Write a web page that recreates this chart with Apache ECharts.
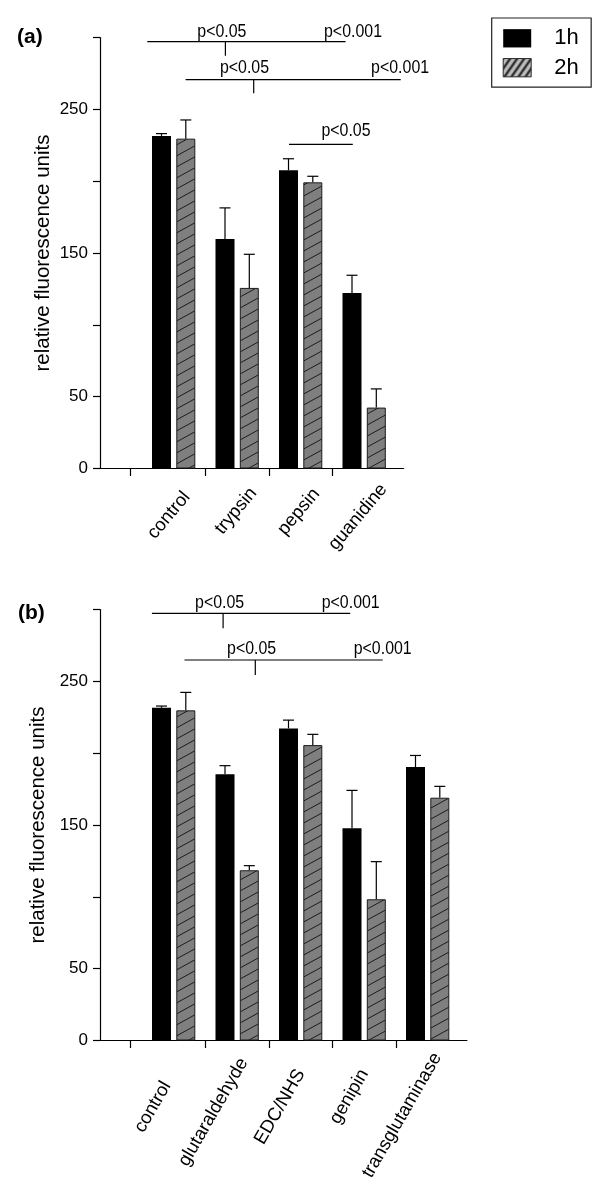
<!DOCTYPE html>
<html>
<head>
<meta charset="utf-8">
<script src="https://cdn.jsdelivr.net/npm/echarts@6/dist/echarts.min.js"></script>
<style>
  html, body { margin: 0; padding: 0; background: #fff; }
  #chart { width: 600px; height: 1198px; }
</style>
</head>
<body>
<div id="chart"></div>
<script>
// ---------------- DATA ----------------
const categoriesA = ['control', 'trypsin', 'pepsin', 'guanidine'];
const meanA1h = [231.5, 159.8, 207.6, 122.2];
const errA1h  = [1.6, 21.6, 8.0, 12.3];
const meanA2h = [229.6, 125.7, 199.2, 42.4];
const errA2h  = [13.0, 23.4, 4.2, 13.0];

const categoriesB = ['control', 'glutaraldehyde', 'EDC/NHS', 'genipin', 'transglutaminase'];
const meanB1h = [231.6, 185.3, 217.2, 147.7, 190.3];
const errB1h  = [1.2, 6.0, 5.8, 26.4, 8.1];
const meanB2h = [229.8, 118.5, 205.6, 98.3, 169.0];
const errB2h  = [12.5, 3.2, 7.5, 26.2, 7.9];

const seriesNames = ['1h', '2h'];
const yLabeledTicks = [0, 50, 150, 250];
const yMax = 300;
const yStep = 50;

// ---------------- LAYOUT / STYLE ----------------
const FONT = "'Liberation Sans', Arial, Helvetica, sans-serif";
const BAND = 63.5;          // px per category band
const BAND_LEFT = 141.9;    // left edge of first band
const AXIS_X = 100;         // y-axis line x
const BAR_W = 19;
const BAR_GAP_PX = 5.3;
const BAR_OFF = (BAR_W + BAR_GAP_PX) / 2;
const PLOT_H = 431;
const TOP_A = 37.5, TOP_B = 609.5;
const AXIS_LINE_LEFT = 95.7;
const AXIS_LINE_RIGHT_A = 403.7, AXIS_LINE_RIGHT_B = 466.9;
const ODD_TICK = (130 - BAND_LEFT) / BAND;
const labelA = { rotate: 50, shift: 19.6, margin: 17.8, pad: [10, 5, 6, 0] };
const labelB = { rotate: 60, shift: 9.6, margin: 13.8, pad: [33, 6, 19, 19, 0] };

function hatch(w, h, bg, fg, lw) {
  const c = document.createElement('canvas');
  c.width = w; c.height = h;
  const g = c.getContext('2d');
  g.fillStyle = bg; g.fillRect(0, 0, w, h);
  g.strokeStyle = fg; g.lineWidth = lw;
  g.beginPath();
  for (const dx of [-w, 0, w]) for (const dy of [-h, 0, h]) {
    g.moveTo(dx, h + dy); g.lineTo(w + dx, dy);
  }
  g.stroke();
  return { image: c, repeat: 'repeat' };
}
const barPattern = hatch(20, 11, '#7f7f7f', '#1c1c1c', 1);
const legendPattern = hatch(7, 10, '#bdbdbd', '#2a2a2a', 2.4);

const chart = echarts.init(document.getElementById('chart'), null, { renderer: 'canvas' });

function grids(top, nBands, lineRight, labelShift) {
  return [
    { left: BAND_LEFT, top: top, width: BAND * nBands, height: PLOT_H },
    { left: AXIS_LINE_LEFT, top: top, width: lineRight - AXIS_LINE_LEFT, height: PLOT_H },
    { left: BAND_LEFT + labelShift, top: top, width: BAND * nBands, height: PLOT_H }
  ];
}

function xAxes(gridBase, cats, lineRight, lab) {
  const nB = cats.length;
  const rich = {};
  lab.pad.forEach((p, i) => {
    rich['p' + i] = { fontFamily: FONT, fontSize: 18.5, color: '#000', padding: [0, p, 0, 0] };
  });
  const ticks = [ODD_TICK];
  for (let i = 1; i < nB; i++) ticks.push(i);
  return [
    { gridIndex: gridBase, type: 'category', data: cats,
      axisLine: { show: false }, axisTick: { show: false }, axisLabel: { show: false } },
    { gridIndex: gridBase + 1, type: 'value',
      min: (AXIS_LINE_LEFT - BAND_LEFT) / BAND, max: (lineRight - BAND_LEFT) / BAND,
      axisLine: { show: true, lineStyle: { color: '#000', width: 1.2 } },
      axisTick: { show: true, length: 7.5, lineStyle: { color: '#000', width: 1.2 }, customValues: ticks },
      axisLabel: { show: false }, splitLine: { show: false } },
    { gridIndex: gridBase + 2, type: 'category', data: cats,
      axisLine: { show: false }, axisTick: { show: false },
      axisLabel: { show: true, interval: 0, rotate: lab.rotate, margin: lab.margin,
        formatter: (v, i) => '{p' + i + '|' + v + '}', rich: rich } }
  ];
}

function yAxes(gridBase) {
  return [
    { gridIndex: gridBase, type: 'value', min: 0, max: yMax, interval: yStep,
      offset: BAND_LEFT - AXIS_X,
      name: 'relative fluorescence units', nameLocation: 'middle', nameGap: 46,
      nameTextStyle: { fontFamily: FONT, fontSize: 20.5, color: '#000' },
      axisLine: { show: true, lineStyle: { color: '#000', width: 1.2 } },
      axisTick: { show: true, length: 7, lineStyle: { color: '#000', width: 1.2 } },
      axisLabel: { margin: 12, fontFamily: FONT, fontSize: 17, color: '#000',
        formatter: v => (yLabeledTicks.indexOf(v) >= 0 ? String(v) : '') },
      splitLine: { show: false } },
    { gridIndex: gridBase + 1, type: 'value', min: 0, max: yMax, show: false },
    { gridIndex: gridBase + 2, type: 'value', min: 0, max: yMax, show: false }
  ];
}

function barSeries(axisIdx, name, values, isHatched) {
  return {
    type: 'bar', name: name, xAxisIndex: axisIdx, yAxisIndex: axisIdx,
    data: values, barWidth: BAR_W, barGap: (BAR_GAP_PX / BAR_W * 100) + '%',
    itemStyle: isHatched
      ? { color: barPattern, borderColor: '#1c1c1c', borderWidth: 1 }
      : { color: '#000', borderColor: '#000', borderWidth: 0 },
    z: 2
  };
}

function errSeries(axisIdx, name, means, errs, dir) {
  return {
    type: 'custom', name: name, xAxisIndex: axisIdx, yAxisIndex: axisIdx,
    data: means.map((m, i) => [i, m, errs[i]]),
    encode: { x: 0, y: 1 },
    z: 3,
    renderItem: function (params, api) {
      const i = api.value(0), m = api.value(1), e = api.value(2);
      const p0 = api.coord([i, m]);
      const p1 = api.coord([i, m + e]);
      const x = p0[0] + dir * BAR_OFF;
      const st = { stroke: '#000', lineWidth: 1.2 };
      return { type: 'group', children: [
        { type: 'line', shape: { x1: x, y1: p0[1], x2: x, y2: p1[1] }, style: st },
        { type: 'line', shape: { x1: x - 5.5, y1: p1[1], x2: x + 5.5, y2: p1[1] }, style: st }
      ] };
    }
  };
}

// significance annotations (pixel layout)
const annotations = [
  { line: [147.3, 345.6, 41.7], tick: [225.4, 55.7], texts: [['p<0.05', 221.9, 31.7], ['p<0.001', 353, 31.7]] },
  { line: [185.6, 400.7, 79.7], tick: [253.7, 93.3], texts: [['p<0.05', 244.5, 68.3], ['p<0.001', 400.1, 68.3]] },
  { line: [289, 352.8, 144.3], tick: null, texts: [['p<0.05', 346, 131]] },
  { line: [151.9, 350.2, 613.3], tick: [223.1, 628.3], texts: [['p<0.05', 219.6, 603.3], ['p<0.001', 350.7, 603.3]] },
  { line: [184.5, 382.7, 660], tick: [255.3, 675], texts: [['p<0.05', 251.6, 649.3], ['p<0.001', 382.7, 649.3]] }
];
const graphics = [];
annotations.forEach(a => {
  graphics.push({ type: 'line', shape: { x1: a.line[0], y1: a.line[2], x2: a.line[1], y2: a.line[2] },
    style: { stroke: '#000', lineWidth: 1.2 } });
  if (a.tick) graphics.push({ type: 'line', shape: { x1: a.tick[0], y1: a.line[2], x2: a.tick[0], y2: a.tick[1] },
    style: { stroke: '#000', lineWidth: 1.2 } });
  a.texts.forEach(t => graphics.push({ type: 'text', x: t[1], y: t[2], scaleX: 0.86,
    style: { text: t[0], fontFamily: FONT, fontSize: 18.5, fill: '#000', textAlign: 'center', textVerticalAlign: 'middle' } }));
});
graphics.push({ type: 'text', x: 17, y: 37, style: { text: '(a)', fontFamily: FONT, fontSize: 21, fontWeight: 'bold', fill: '#000', textVerticalAlign: 'middle' } });
graphics.push({ type: 'text', x: 18, y: 613, style: { text: '(b)', fontFamily: FONT, fontSize: 21, fontWeight: 'bold', fill: '#000', textVerticalAlign: 'middle' } });

const option = {
  animation: false,
  backgroundColor: '#fff',
  textStyle: { fontFamily: FONT },
  grid: [].concat(
    grids(TOP_A, categoriesA.length, AXIS_LINE_RIGHT_A, labelA.shift),
    grids(TOP_B, categoriesB.length, AXIS_LINE_RIGHT_B, labelB.shift)
  ),
  xAxis: [].concat(
    xAxes(0, categoriesA, AXIS_LINE_RIGHT_A, labelA),
    xAxes(3, categoriesB, AXIS_LINE_RIGHT_B, labelB)
  ),
  yAxis: [].concat(yAxes(0), yAxes(3)),
  legend: {
    orient: 'vertical', left: 491.7, top: 18,
    padding: [9.3, 12.5, 8.4, 11],
    itemWidth: 28, itemHeight: 18.3, itemGap: 7.4,
    borderColor: '#222', borderWidth: 1.2,
    icon: 'rect',
    selectedMode: false,
    formatter: '{t|{name}}',
    textStyle: { fontFamily: FONT, fontSize: 22, color: '#000', lineHeight: 18,
      rich: { t: { fontFamily: FONT, fontSize: 22, lineHeight: 18, color: '#000', padding: [0, 0, 0, 18] } } },
    data: [
      { name: seriesNames[0], itemStyle: { color: '#000', borderWidth: 0 } },
      { name: seriesNames[1], itemStyle: { color: legendPattern, borderColor: '#2a2a2a', borderWidth: 1 } }
    ]
  },
  graphic: graphics,
  series: [
    barSeries(0, seriesNames[0], meanA1h, false),
    barSeries(0, seriesNames[1], meanA2h, true),
    errSeries(0, 'errA1h', meanA1h, errA1h, -1),
    errSeries(0, 'errA2h', meanA2h, errA2h, 1),
    barSeries(3, seriesNames[0], meanB1h, false),
    barSeries(3, seriesNames[1], meanB2h, true),
    errSeries(3, 'errB1h', meanB1h, errB1h, -1),
    errSeries(3, 'errB2h', meanB2h, errB2h, 1)
  ]
};
chart.setOption(option);
</script>
</body>
</html>
